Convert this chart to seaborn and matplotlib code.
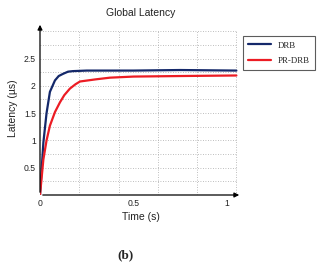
import matplotlib
matplotlib.use("Agg")
import matplotlib.pyplot as plt
import seaborn as sns
import pandas as pd

# values
time_drb = [0, 0.018, 0.035, 0.053, 0.08, 0.10, 0.123, 0.15, 0.176, 0.25, 0.5, 0.75, 1.05]
lat_drb = [0, 0.96, 1.50, 1.89, 2.10, 2.18, 2.22, 2.26, 2.27, 2.28, 2.28, 2.29, 2.28]
time_pr = [0, 0.018, 0.035, 0.053, 0.08, 0.107, 0.13, 0.16, 0.19, 0.214, 0.30, 0.374, 0.5, 0.75, 1.05]
lat_pr = [0, 0.65, 1.00, 1.27, 1.52, 1.70, 1.83, 1.95, 2.03, 2.08, 2.12, 2.15, 2.17, 2.18, 2.19]
x_ticks = [0, 0.5, 1]
x_labels = ["0", "0.5", "1"]
y_ticks = [0.5, 1, 1.5, 2, 2.5]
y_labels = ["0.5", "1", "1.5", "2", "2.5"]
x_grid = [0.21, 0.42, 0.63, 0.84, 1.05]
y_grid = [0.25 * k for k in range(1, 13)]

df = pd.concat([
    pd.DataFrame({"Time": time_drb, "Latency": lat_drb, "Series": "DRB"}),
    pd.DataFrame({"Time": time_pr, "Latency": lat_pr, "Series": "PR-DRB"}),
])

sns.set_theme(style="white")
plt.rcParams["font.family"] = ["Liberation Sans", "DejaVu Sans"]

fig = plt.figure(figsize=(3.2, 2.64), dpi=100)
ax = fig.add_axes([40 / 320, 69 / 264, 202 / 320, 173 / 264])

# dotted grid inside the data box
ax.hlines(y_grid, 0, 1.05, colors="#a8a8a8", linestyles=(0, (1, 2)), linewidth=0.6, zorder=0)
ax.vlines(x_grid, 0, 3.0, colors="#a8a8a8", linestyles=(0, (1, 2)), linewidth=0.6, zorder=0)

sns.lineplot(data=df, x="Time", y="Latency", hue="Series",
             palette={"DRB": "#14286a", "PR-DRB": "#ec1c24"},
             linewidth=1.6, ax=ax, legend=False)

ax.set_xlim(0, 1.08)
ax.set_ylim(0, 3.17)
ax.set_xticks(x_ticks, x_labels)
ax.set_yticks(y_ticks, y_labels)
ax.tick_params(axis="both", length=0, labelsize=6.2, colors="#222222", pad=3)
for s in ax.spines.values():
    s.set_visible(False)

# axes drawn as arrows
ax.annotate("", xy=(1.0, 0), xytext=(0, 0), xycoords="axes fraction",
            arrowprops=dict(arrowstyle="-|>", color="black", lw=0.9, mutation_scale=7))
ax.annotate("", xy=(0, 1.0), xytext=(0, 0), xycoords="axes fraction",
            arrowprops=dict(arrowstyle="-|>", color="black", lw=0.9, mutation_scale=7))

ax.set_title("Global Latency", fontsize=7.5, pad=4, color="#222222")
ax.set_xlabel("Time (s)", fontsize=7.5, labelpad=3, color="#222222")
ax.set_ylabel("Latency (\u00b5s)", fontsize=7.5, labelpad=4, color="#222222")

h1, = ax.plot([], [], color="#14286a", lw=1.6)
h2, = ax.plot([], [], color="#ec1c24", lw=1.6)
leg = fig.legend([h1, h2], ["DRB", "PR-DRB"], loc="upper left",
                 bbox_to_anchor=(243 / 320, 1 - 36 / 264), borderaxespad=0,
                 prop={"family": "Liberation Serif", "size": 6.4},
                 frameon=True, fancybox=False, handlelength=2.6,
                 borderpad=0.6, labelspacing=0.8, handletextpad=0.7)
leg.get_frame().set_edgecolor("#333333")
leg.get_frame().set_linewidth(0.8)

fig.text(125 / 320, 1 - 255 / 264, "(b)", ha="center", va="center",
         fontsize=9.5, fontweight="bold", family="Liberation Serif")

fig.savefig("out.png", dpi=100, facecolor="white")
